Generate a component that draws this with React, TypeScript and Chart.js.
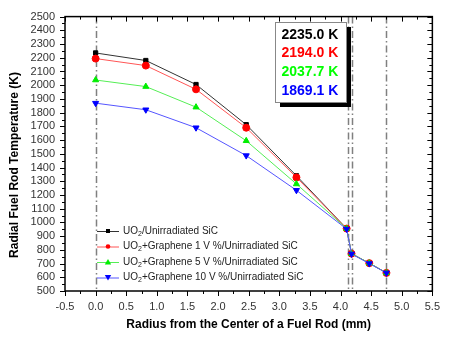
import React, { useEffect, useRef } from "react";
import { Chart, registerables } from "chart.js";

Chart.register(...registerables);

const radius = [0, 0.82, 1.64, 2.46, 3.28, 4.1, 4.18, 4.47, 4.75];
const uo2 = [2235, 2180, 2005, 1712, 1340, 955, 772, 703, 632];
const g1 = [2194, 2143, 1970, 1690, 1328, 955, 772, 703, 632];
const g5 = [2037.7, 1990, 1840, 1595, 1280, 955, 772, 703, 632];
const g10 = [1869.1, 1821, 1690, 1487, 1234, 952, 770, 700, 632];
const seriesNames = [
  ["UO", "2", "/Unirradiated SiC"],
  ["UO", "2", "+Graphene 1 V %/Unirradiated SiC"],
  ["UO", "2", "+Graphene 5 V %/Unirradiated SiC"],
  ["UO", "2", "+Graphene 10 V %/Unirradiated SiC"],
];
const centerTemps = ["2235.0 K", "2194.0 K", "2037.7 K", "1869.1 K"];
const boundaryLines = [0, 4.12, 4.19, 4.74];
const xTitle = "Radius from the Center of a Fuel Rod (mm)";
const yTitle = "Radial Fuel Rod Temperature (K)";

const colors = ["#000000", "#ff0000", "#00ee00", "#0000ff"];
const lineColors = ["#333333", "#ff5555", "#55ee55", "#5555ff"];
const markers = ["rect", "circle", "triangle", "triangle"];

export default function App() {
  const ref = useRef<HTMLCanvasElement>(null);
  useEffect(() => {
    document.body.style.margin = "0";
    const series = [uo2, g1, g5, g10];
    const datasets = series.map((vals, i) => ({
      label: seriesNames[i].join(""),
      data: radius.map((x, j) => ({ x, y: vals[j] })),
      borderColor: lineColors[i],
      backgroundColor: colors[i],
      pointBorderColor: colors[i],
      pointBackgroundColor: colors[i],
      pointStyle: markers[i] as any,
      pointRotation: i === 3 ? 180 : 0,
      pointRadius: i === 0 ? 3 : 3.5,
      borderWidth: 1,
      showLine: true,
      order: 3 - i,
    }));

    const deco = {
      id: "deco",
      beforeDatasetsDraw(chart: any) {
        const { ctx, chartArea: a, scales } = chart;
        ctx.save();
        ctx.strokeStyle = "#808080";
        ctx.lineWidth = 1.5;
        ctx.setLineDash([7, 3, 1.5, 3]);
        boundaryLines.forEach((v) => {
          const px = Math.round(scales.x.getPixelForValue(v)) + 0.5;
          ctx.beginPath();
          ctx.moveTo(px, a.top);
          ctx.lineTo(px, a.bottom);
          ctx.stroke();
        });
        ctx.restore();
      },
      afterDraw(chart: any) {
        const { ctx, chartArea: a, scales } = chart;
        const xs = scales.x;
        const ys = scales.y;
        ctx.save();
        ctx.strokeStyle = "#000";
        ctx.lineWidth = 1.5;
        ctx.strokeRect(a.left, a.top, a.right - a.left, a.bottom - a.top);
        ctx.lineWidth = 1;
        for (let v = -0.5; v <= 5.5001; v += 0.25) {
          const px = Math.round(xs.getPixelForValue(v)) + 0.5;
          const major = Math.abs(v * 2 - Math.round(v * 2)) < 1e-6;
          const len = major ? 5 : 3;
          ctx.beginPath();
          ctx.moveTo(px, a.bottom);
          ctx.lineTo(px, a.bottom + len);
          ctx.moveTo(px, a.top);
          ctx.lineTo(px, a.top + len);
          ctx.stroke();
        }
        for (let v = 500; v <= 2500; v += 50) {
          const py = Math.round(ys.getPixelForValue(v)) + 0.5;
          const major = v % 100 === 0;
          const len = major ? 5 : 3;
          ctx.beginPath();
          ctx.moveTo(a.left - len, py);
          ctx.lineTo(a.left, py);
          ctx.moveTo(a.right - len, py);
          ctx.lineTo(a.right, py);
          ctx.stroke();
        }
        ctx.fillStyle = "#000";
        ctx.font = "bold 12px 'Liberation Sans', Arial, sans-serif";
        ctx.textAlign = "center";
        ctx.textBaseline = "middle";
        ctx.fillText(xTitle, (a.left + a.right) / 2, 325);
        ctx.save();
        ctx.translate(15, 165);
        ctx.rotate(-Math.PI / 2);
        ctx.fillText(yTitle, 0, 0);
        ctx.restore();

        const lx = 97;
        const rowsY = [231, 246.5, 262, 277.5];
        ctx.textAlign = "left";
        ctx.textBaseline = "middle";
        seriesNames.forEach((parts, i) => {
          const y = rowsY[i];
          ctx.strokeStyle = lineColors[i];
          ctx.lineWidth = 1;
          ctx.beginPath();
          ctx.moveTo(lx, y + 0.5);
          ctx.lineTo(lx + 22, y + 0.5);
          ctx.stroke();
          ctx.fillStyle = colors[i];
          const mx = lx + 11;
          ctx.beginPath();
          if (i === 0) {
            ctx.fillRect(mx - 2, y - 2, 4, 4);
          } else if (i === 1) {
            ctx.arc(mx, y, 2.3, 0, Math.PI * 2);
            ctx.fill();
          } else if (i === 2) {
            ctx.moveTo(mx, y - 3);
            ctx.lineTo(mx + 3.2, y + 2.5);
            ctx.lineTo(mx - 3.2, y + 2.5);
            ctx.closePath();
            ctx.fill();
          } else {
            ctx.moveTo(mx, y + 3);
            ctx.lineTo(mx + 3.2, y - 2.5);
            ctx.lineTo(mx - 3.2, y - 2.5);
            ctx.closePath();
            ctx.fill();
          }
          ctx.fillStyle = "#222";
          let tx = lx + 26;
          ctx.font = "10px 'Liberation Sans', Arial, sans-serif";
          ctx.fillText(parts[0], tx, y);
          tx += ctx.measureText(parts[0]).width;
          ctx.font = "7px 'Liberation Sans', Arial, sans-serif";
          ctx.fillText(parts[1], tx, y + 3);
          tx += ctx.measureText(parts[1]).width;
          ctx.font = "10px 'Liberation Sans', Arial, sans-serif";
          ctx.fillText(parts[2], tx, y);
        });

        const bx = 275, by = 22, bw = 71, bh = 80;
        ctx.fillStyle = "#000";
        ctx.fillRect(bx + 5, by + 5, bw, bh);
        ctx.fillStyle = "#fff";
        ctx.fillRect(bx, by, bw, bh);
        ctx.strokeStyle = "#888";
        ctx.lineWidth = 1;
        ctx.strokeRect(bx + 0.5, by + 0.5, bw, bh);
        ctx.font = "bold 14px 'Liberation Sans', Arial, sans-serif";
        ctx.textAlign = "left";
        const ty = [35, 53, 72, 91];
        centerTemps.forEach((t, i) => {
          ctx.fillStyle = colors[i] === "#00ee00" ? "#00ff00" : colors[i];
          ctx.fillText(t, 281.5, ty[i]);
        });
        ctx.restore();
      },
    };

    const chart = new Chart(ref.current!, {
      type: "scatter",
      data: { datasets: datasets as any },
      options: {
        animation: false,
        responsive: false,
        layout: { padding: { left: 0, right: 8, top: 14, bottom: 0 } },
        plugins: { legend: { display: false }, tooltip: { enabled: false } },
        scales: {
          x: {
            type: "linear",
            min: -0.5,
            max: 5.5,
            afterFit: (s: any) => {
              s.height = 46;
            },
            grid: { display: false, drawTicks: false },
            border: { display: false },
            ticks: {
              stepSize: 0.5,
              padding: 9,
              color: "#333",
              font: { size: 11, family: "'Liberation Sans', Arial, sans-serif" },
              callback: (v: any) => Number(v).toFixed(1),
              maxRotation: 0,
              autoSkip: false,
            },
          },
          y: {
            min: 500,
            max: 2500,
            afterFit: (s: any) => {
              s.width = 65;
            },
            grid: { display: false, drawTicks: false },
            border: { display: false },
            ticks: {
              stepSize: 100,
              padding: 10,
              color: "#333",
              font: { size: 11, family: "'Liberation Sans', Arial, sans-serif" },
              callback: (v: any) => String(v),
              autoSkip: false,
            },
          },
        },
      },
      plugins: [deco],
    });
    return () => chart.destroy();
  }, []);
  return <canvas ref={ref} width={449} height={337} style={{ display: "block" }} />;
}
